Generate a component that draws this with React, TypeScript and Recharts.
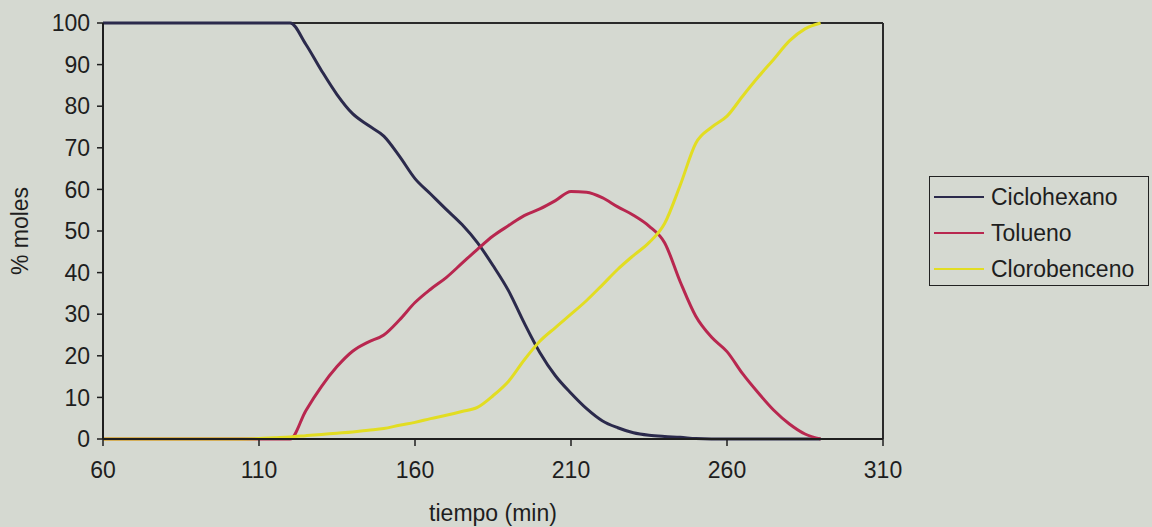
import { CartesianGrid, Legend, Line, LineChart, ReferenceLine, XAxis, YAxis } from "recharts";

// tiempo de destilación (min)
const TIEMPO = [
	60, 70, 80, 90, 100, 110, 115, 120, 125, 130, 135, 140, 145, 150, 155, 160, 165, 170, 175, 180, 185,
	190, 195, 200, 205, 210, 215, 220, 225, 230, 235, 240, 245, 250, 255, 260, 265, 270, 275, 280, 285, 290,
];

// % moles de cada componente en el destilado
const CICLOHEXANO = [
	100, 100, 100, 100, 100, 100, 100, 100, 94.9, 88.6, 82.8, 78.2, 75.4, 72.8, 68, 62.6, 58.9, 55.2, 51.6,
	47.2, 41.7, 35.6, 27.9, 20.8, 15.2, 11, 7.3, 4.4, 2.7, 1.5, 0.9, 0.6, 0.4, 0.1, 0, 0, 0, 0, 0, 0, 0, 0,
];
const TOLUENO = [
	0, 0, 0, 0, 0, 0, 0, 0, 6.8, 12.6, 17.4, 21.1, 23.3, 25, 28.6, 32.8, 36, 38.8, 42.2, 45.6, 48.8, 51.3,
	53.7, 55.3, 57.3, 59.5, 59.3, 58, 55.8, 53.8, 51.2, 47.2, 37.8, 29.5, 24.5, 21, 15.7, 11.1, 6.9, 3.6, 1.2, 0,
];
const CLOROBENCENO = [
	0, 0, 0, 0, 0, 0.1, 0.3, 0.5, 0.8, 1.1, 1.4, 1.7, 2.1, 2.5, 3.3, 4, 4.9, 5.7, 6.6, 7.6, 10.4, 13.9, 19,
	23.5, 26.8, 30, 33.3, 37, 40.8, 44.1, 47.2, 51.8, 61, 71.1, 74.9, 77.6, 82.4, 87, 91.3, 95.7, 98.6, 100,
];

const X_TICKS = [60, 110, 160, 210, 260, 310];
const Y_TICKS = [0, 10, 20, 30, 40, 50, 60, 70, 80, 90, 100];

const SERIES = [
	{ key: "ciclohexano", name: "Ciclohexano", color: "#2b2a4c" },
	{ key: "tolueno", name: "Tolueno", color: "#b8274f" },
	{ key: "clorobenceno", name: "Clorobenceno", color: "#e2dd22" },
];

const FONT = "'Liberation Sans', Arial, sans-serif";
const INK = "#1e1e1e";

const rows = TIEMPO.map((t, i) => ({
	t,
	ciclohexano: CICLOHEXANO[i],
	tolueno: TOLUENO[i],
	clorobenceno: CLOROBENCENO[i],
}));

// legend keeps the series order (Ciclohexano, Tolueno, Clorobenceno)
function LegendBox() {
	return (
		<div
			style={{
				border: "1.5px solid #222",
				padding: "0 4px",
				fontFamily: FONT,
				fontSize: 23,
				color: INK,
			}}
		>
			{SERIES.map((item) => (
				<div key={item.key} style={{ lineHeight: "36px", height: 36, whiteSpace: "nowrap" }}>
					<span
						style={{
							display: "inline-block",
							width: 50,
							height: 2,
							background: item.color,
							verticalAlign: "middle",
							marginRight: 7,
						}}
					/>
					<span style={{ verticalAlign: "middle" }}>{item.name}</span>
				</div>
			))}
		</div>
	);
}

export default function App() {
	return (
		<div
			style={{
				position: "fixed",
				left: 0,
				top: 0,
				width: 1152,
				height: 527,
				background: "#d5d9d1",
			}}
		>
			<LineChart width={1152} height={527} data={rows} margin={{ top: 23, right: 269, left: 13, bottom: 8 }}>
				<CartesianGrid stroke="none" />
				<XAxis
					dataKey="t"
					type="number"
					domain={[60, 310]}
					ticks={X_TICKS}
					height={80}
					tickSize={7}
					tickMargin={16}
					axisLine={{ stroke: INK, strokeWidth: 2 }}
					tickLine={{ stroke: INK, strokeWidth: 1.5 }}
					tick={{ fill: INK, fontSize: 23, fontFamily: FONT }}
					label={{
						value: "tiempo (min)",
						position: "insideBottom",
						offset: -2,
						fill: INK,
						fontSize: 23,
						fontFamily: FONT,
					}}
				/>
				<YAxis
					type="number"
					domain={[0, 100]}
					ticks={Y_TICKS}
					width={90}
					tickSize={6}
					tickMargin={7}
					axisLine={{ stroke: INK, strokeWidth: 2 }}
					tickLine={{ stroke: INK, strokeWidth: 1.5 }}
					tick={{ fill: INK, fontSize: 23, fontFamily: FONT }}
					label={{
						value: "% moles",
						angle: -90,
						position: "insideLeft",
						offset: 7,
						fill: INK,
						fontSize: 23,
						fontFamily: FONT,
						style: { textAnchor: "middle" },
					}}
				/>
				<ReferenceLine y={100} stroke="#2a2a2a" strokeWidth={2} />
				<ReferenceLine x={310} stroke="#2a2a2a" strokeWidth={2} />
				<Legend
					layout="horizontal"
					verticalAlign="middle"
					align="center"
					wrapperStyle={{ position: "absolute", left: 929, top: 176, width: 220 }}
					content={LegendBox}
				/>
				{SERIES.map((s) => (
					<Line
						key={s.key}
						type="monotone"
						dataKey={s.key}
						name={s.name}
						stroke={s.color}
						strokeWidth={3}
						dot={false}
						activeDot={false}
						isAnimationActive={false}
					/>
				))}
			</LineChart>
		</div>
	);
}
